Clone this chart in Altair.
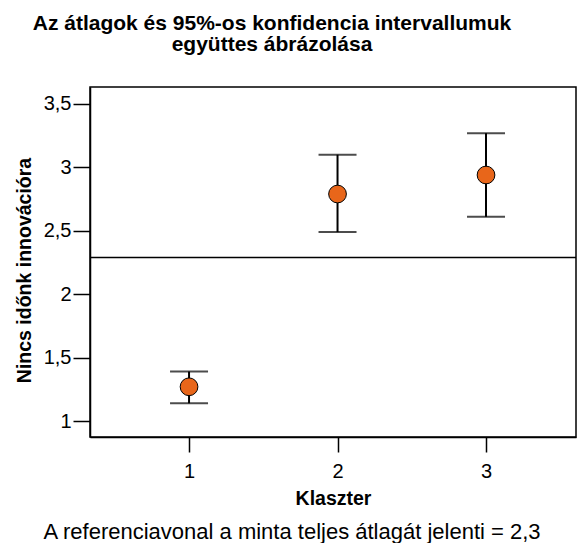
import altair as alt
import pandas as pd

clusters = [1, 2, 3]
means = [1.27, 2.79, 2.94]
ci_low = [1.14, 2.49, 2.61]
ci_high = [1.39, 3.10, 3.27]
ref_value = 2.29
y_ticks = [1, 1.5, 2, 2.5, 3, 3.5]
x_ticks = [1, 2, 3]

df = pd.DataFrame({"Klaszter": clusters, "mean": means, "lo": ci_low, "hi": ci_high})
ref = pd.DataFrame({"ref": [ref_value]})
foot = pd.DataFrame({"t": ["A referenciavonal a minta teljes átlagát jelenti = 2,3"]})

FONT = "Liberation Sans"
xs = alt.Scale(domain=[0.333, 3.606], nice=False, zero=False)
ys = alt.Scale(domain=[0.874, 3.634], nice=False, zero=False)

x_enc = alt.X("Klaszter:Q", scale=xs, title="Klaszter",
              axis=alt.Axis(values=x_ticks, format="d", grid=False, tickSize=15,
                            labelPadding=9, titlePadding=8, domainColor="black",
                            tickColor="black", labelColor="black", titleColor="black"))

rules = alt.Chart(df).mark_rule(color="black", strokeWidth=2).encode(
    x=x_enc,
    y=alt.Y("lo:Q", scale=ys, title="Nincs időnk innovációra",
            axis=alt.Axis(values=y_ticks, grid=False, tickSize=17, labelPadding=2,
                          format="~g",
                          labelExpr="replace(datum.label, '.', ',')",
                          titleX=-66, titleY=183, titleAlign="center", titleBaseline="middle",
                          domainColor="black", tickColor="black", labelColor="black",
                          titleColor="black")),
    y2="hi:Q",
)
cap_lo = alt.Chart(df).mark_tick(orient="horizontal", size=38, thickness=2, color="black").encode(
    x=alt.X("Klaszter:Q", scale=xs), y=alt.Y("lo:Q", scale=ys))
cap_hi = alt.Chart(df).mark_tick(orient="horizontal", size=38, thickness=2, color="black").encode(
    x=alt.X("Klaszter:Q", scale=xs), y=alt.Y("hi:Q", scale=ys))
refline = alt.Chart(ref).mark_rule(color="black", strokeWidth=1.5).encode(
    y=alt.Y("ref:Q", scale=ys))
pts = alt.Chart(df).mark_point(filled=True, fill="#E8661A", stroke="black", strokeWidth=1,
                               size=314, opacity=1, shape="circle").encode(
    x=alt.X("Klaszter:Q", scale=xs), y=alt.Y("mean:Q", scale=ys))
footer = alt.Chart(foot).mark_text(font=FONT, fontSize=22, color="black", align="center",
                                   baseline="middle").encode(
    text="t:N", x=alt.value(202), y=alt.value(445))

chart = alt.layer(refline, rules, cap_lo, cap_hi, pts, footer).properties(
    width=486, height=350,
    autosize=alt.AutoSizeParams(type="none"),
    padding={"left": 82, "top": 79, "right": 1, "bottom": 106},
    background="white",
    title=alt.TitleParams(
        text=["Az átlagok és 95%-os konfidencia intervallumuk", "együttes ábrázolása"],
        font=FONT, fontSize=21, fontWeight="bold", color="black", anchor="middle",
        dx=-61, offset=32, lineHeight=21),
).configure_view(stroke="black", strokeWidth=1.5).configure_axis(
    labelFont=FONT, titleFont=FONT, labelFontSize=20, titleFontSize=19.5,
    titleFontWeight="bold", domainWidth=1.5, tickWidth=1.5,
)

chart.save("out.html", embed_options={"renderer": "svg", "actions": False})
